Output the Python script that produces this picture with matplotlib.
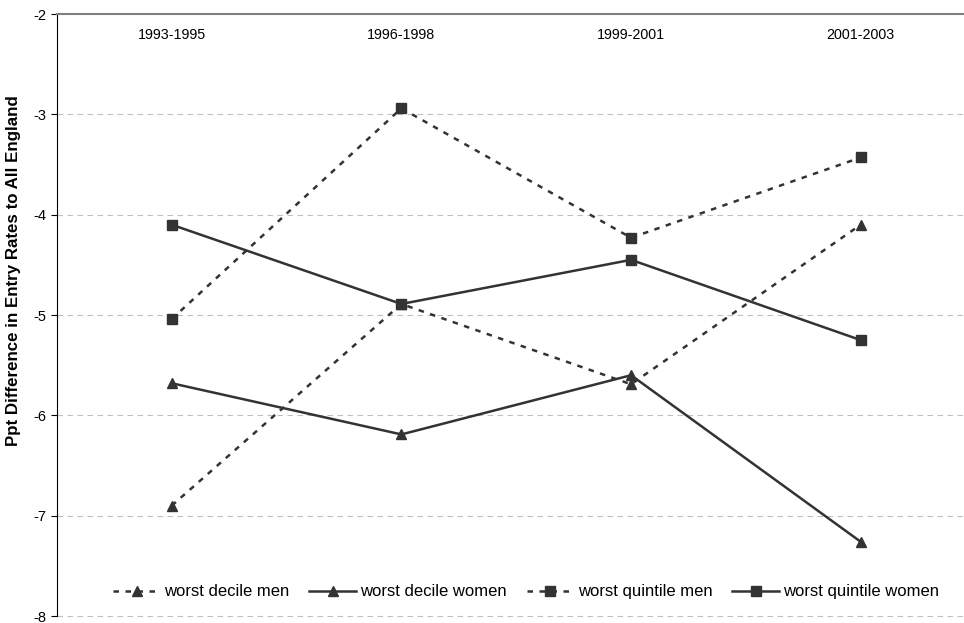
import matplotlib.pyplot as plt

plt.rcParams['font.family'] = ['Liberation Sans', 'DejaVu Sans']
plt.rcParams['axes.unicode_minus'] = False

periods = ['1993-1995', '1996-1998', '1999-2001', '2001-2003']
decile_men = [-6.90, -4.89, -5.69, -4.10]
decile_women = [-5.68, -6.19, -5.60, -7.26]
quintile_men = [-5.04, -2.94, -4.23, -3.43]
quintile_women = [-4.10, -4.89, -4.45, -5.25]

fig = plt.figure(figsize=(9.64, 6.23), dpi=100)
ax = fig.add_axes([0.059, 0.0112, 0.953, 0.9663])

xs = [i + 0.5 for i in range(len(periods))]
col = '#333333'
dash = (0, (2.2, 2.6))

ax.plot(xs, decile_men, color=col, lw=1.8, ls=dash, marker='^', ms=7.5, label='worst decile men')
ax.plot(xs, decile_women, color=col, lw=1.8, marker='^', ms=7.5, label='worst decile women')
ax.plot(xs, quintile_men, color=col, lw=1.8, ls=dash, marker='s', ms=7, label='worst quintile men')
ax.plot(xs, quintile_women, color=col, lw=1.8, marker='s', ms=7, label='worst quintile women')

for x, p in zip(xs, periods):
    ax.text(x, -2.21, p, ha='center', va='center', fontsize=10.3)

ax.set_xlim(0, 4)
ax.set_ylim(-8, -2)
ax.set_yticks(range(-8, -1))
ax.set_xticks([])
ax.tick_params(axis='y', labelsize=10.5, length=4, width=0.8, direction='out')
for y in range(-8, -2):
    ax.axhline(y, color='#c0c0c0', lw=0.8, ls=(0, (5, 4)), zorder=0, clip_on=False)

ax.spines['right'].set_visible(False)
ax.spines['bottom'].set_visible(False)
ax.spines['top'].set_color('#808080')
ax.spines['top'].set_linewidth(1.5)
ax.spines['left'].set_color('black')

ax.set_ylabel('Ppt Difference in Entry Rates to All England', fontsize=12.2, fontweight='bold')
ax.yaxis.set_label_coords(-0.039, 0.573)

ax.legend(loc='center', bbox_to_anchor=(0.511, 0.04), ncol=4, frameon=False, fontsize=12,
          handlelength=2.8, handletextpad=0.25, columnspacing=1.2)

fig.savefig('out.png', dpi=100)
